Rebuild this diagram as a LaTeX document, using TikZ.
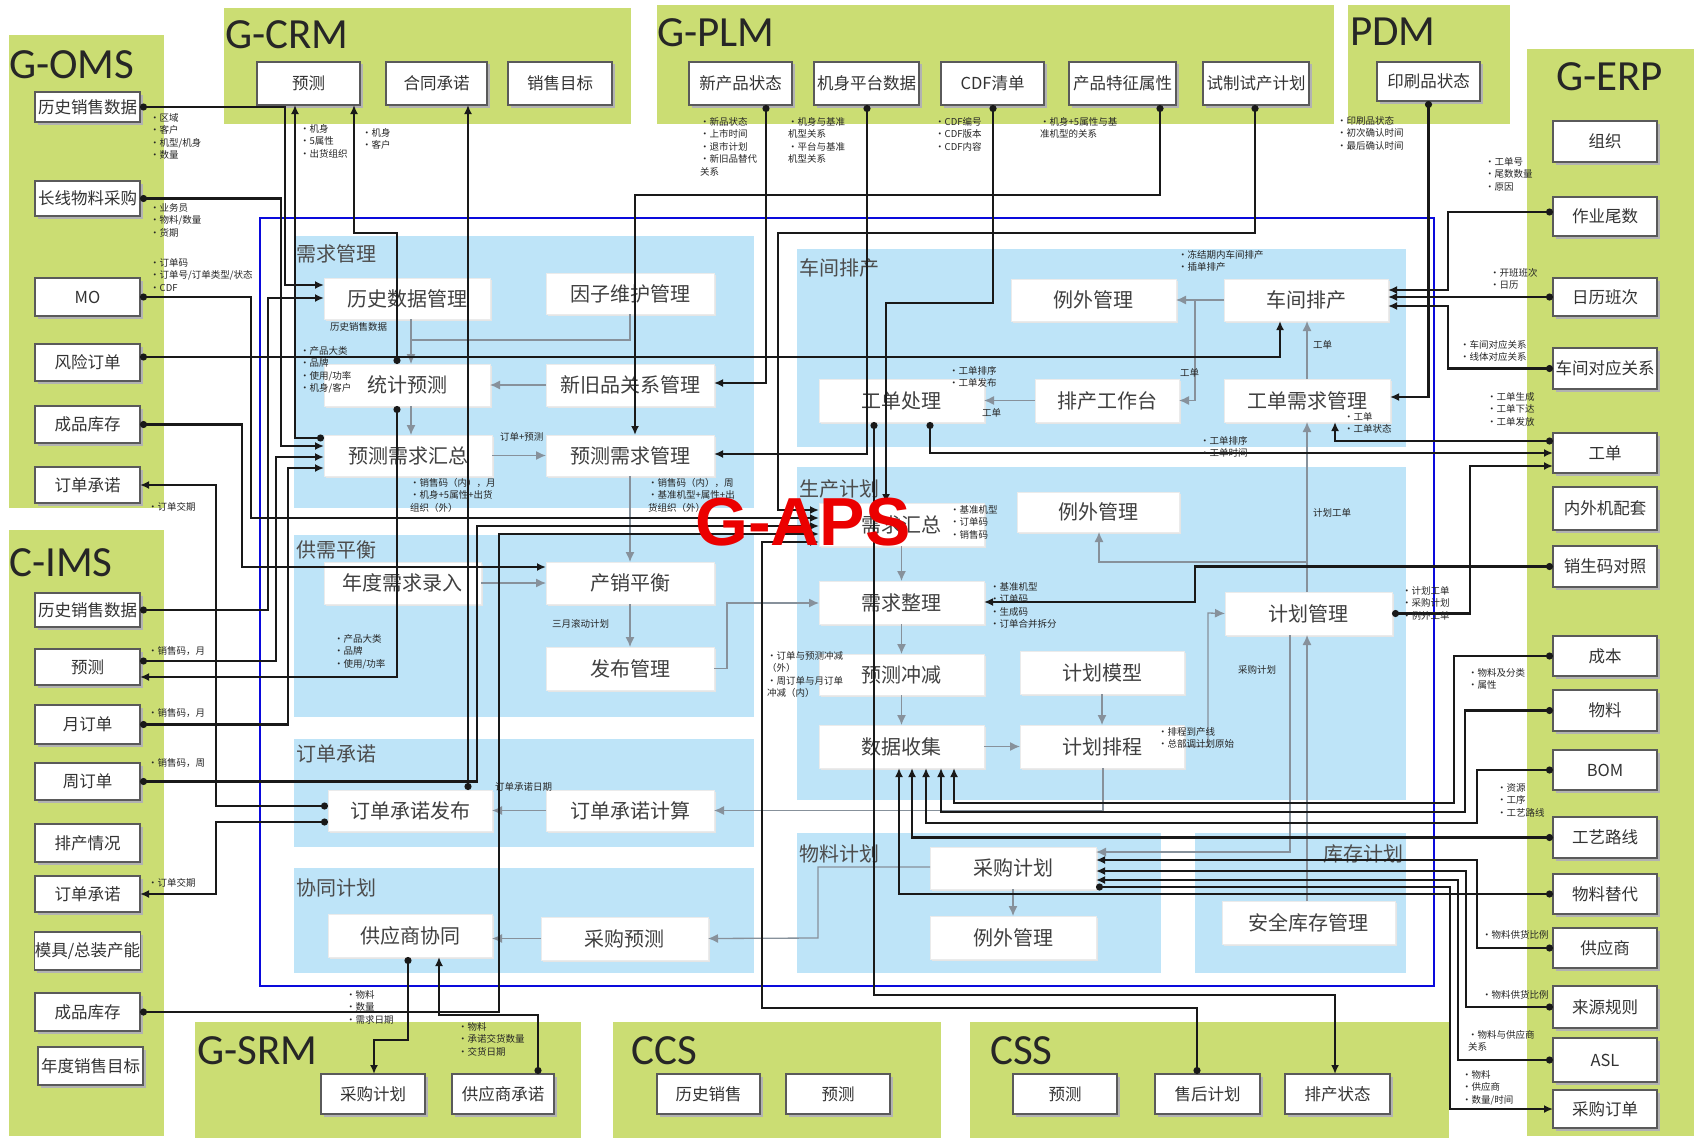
\documentclass[tikz,border=0pt]{standalone}
\usepackage{fontspec}
\setmainfont{Carlito}
\newfontfamily\cjk{Noto Sans CJK SC}
\newfontfamily\arialb{Liberation Sans}
\usetikzlibrary{arrows.meta}
\definecolor{lime}{RGB}{203,221,115}
\definecolor{pblue}{RGB}{190,228,248}
\definecolor{apsblue}{RGB}{10,10,220}
\definecolor{gline}{RGB}{135,145,155}
\definecolor{bline}{RGB}{25,25,25}
\definecolor{bxborder}{RGB}{90,90,90}
\definecolor{apsred}{RGB}{235,0,0}
\newcommand\mybox[7]{%
 \pgfmathsetmacro\mbcx{(#3+#5)/2}%
 \pgfmathsetmacro\mbcy{(#4+#6)/2}%
 \pgfmathsetmacro\mbw{#5-#3}%
 \pgfmathsetmacro\mbh{#6-#4}%
 \node[#1,minimum width=\mbw pt,minimum height=\mbh pt] (#2) at (\mbcx,\mbcy) {#7};}
\tikzset{
 gbox/.style={draw=bxborder,line width=1.2pt,fill=white,inner sep=0pt,outer sep=0pt,font=\cjk\fontsize{16.5}{18}\selectfont,text=black!80,
   preaction={fill=black!30,transform canvas={shift={(2.5pt,-2.5pt)}}}},
 ibox/.style={draw=white!92!black,line width=0.6pt,fill=white,inner sep=0pt,outer sep=0pt,font=\cjk\fontsize{20}{22}\selectfont,text=black!75,
   preaction={fill=black!10,transform canvas={shift={(2pt,-2pt)}}}},
 bl/.style={draw=bline,line width=2.2pt,{Circle[length=7pt]}-{Latex[length=9pt,width=8pt]}},
 gl/.style={draw=gline,line width=1.3pt,-{Latex[length=10pt,width=9pt]}},
 gln/.style={draw=gline,line width=1.3pt},
 lab/.style={font=\cjk\fontsize{9.5}{12.5}\selectfont,align=left,anchor=north west,inner sep=0pt,text=black!85},
 ttl/.style={font=\fontsize{43}{45}\selectfont,anchor=north west,inner sep=0pt,text=black!85},
 ptl/.style={font=\cjk\fontsize{20}{22}\selectfont,anchor=north west,inner sep=0pt,text=black!70},
}
\begin{document}
\begin{tikzpicture}[x=1pt,y=-1pt]
\useasboundingbox (0,0) rectangle (1696,1140);
\fill[white] (0,0) rectangle (1696,1140);
% green panels
\fill[lime] (9,35) rectangle (164,508);
\fill[lime] (9,530) rectangle (164,1136);
\fill[lime] (224,8) rectangle (631,124);
\fill[lime] (657,5) rectangle (1334,124);
\fill[lime] (1348,5) rectangle (1510,124);
\fill[lime] (1527,49) rectangle (1694,1136);
\fill[lime] (195,1022) rectangle (581,1138);
\fill[lime] (613,1022) rectangle (941,1138);
\fill[lime] (970,1022) rectangle (1449,1138);
\node[ttl] (tOMS) at (9,50) {G-OMS};
\node[ttl] (tIMS) at (9,548) {C-IMS};
\node[ttl] (tCRM) at (225,20) {G-CRM};
\node[ttl] (tPLM) at (657,18) {G-PLM};
\node[ttl] (tPDM) at (1350,18) {PDM};
\node[ttl] (tERP) at (1556,62) {G-ERP};
\node[ttl] (tSRM) at (197,1036) {G-SRM};
\node[ttl] (tCCS) at (631,1036) {CCS};
\node[ttl] (tCSS) at (990,1036) {CSS};
% APS frame and sub panels
\draw[apsblue,line width=2.5pt] (260,218) rectangle (1434,986);
\fill[pblue] (294,236) rectangle (754,508);
\fill[pblue] (294,535) rectangle (754,717);
\fill[pblue] (294,739) rectangle (754,847);
\fill[pblue] (294,868) rectangle (754,973);
\fill[pblue] (797,249) rectangle (1406,447);
\fill[pblue] (797,467) rectangle (1406,800);
\fill[pblue] (797,833) rectangle (1161,973);
\fill[pblue] (1195,833) rectangle (1406,973);
\node[ptl] (s1) at (296,244) {需求管理};
\node[ptl] (s2) at (296,540) {供需平衡};
\node[ptl] (s3) at (296,744) {订单承诺};
\node[ptl] (s4) at (296,878) {协同计划};
\node[ptl] (s5) at (799,258) {车间排产};
\node[ptl] (s6) at (799,479) {生产计划};
\node[ptl] (s7) at (799,844) {物料计划};
\node[ptl,anchor=north east] (s8) at (1404,844) {库存计划};
% G-OMS boxes
\mybox{gbox}{oms1}{35}{92}{140}{122}{历史销售数据}
\mybox{gbox}{oms2}{35}{181}{140}{216}{长线物料采购}
\mybox{gbox}{oms3}{35}{278}{140}{316}{MO}
\mybox{gbox}{oms4}{35}{344}{140}{381}{风险订单}
\mybox{gbox}{oms5}{35}{406}{140}{443}{成品库存}
\mybox{gbox}{oms6}{35}{467}{140}{503}{订单承诺}
% C-IMS boxes
\mybox{gbox}{ims1}{35}{593}{140}{627}{历史销售数据}
\mybox{gbox}{ims2}{35}{649}{140}{685}{预测}
\mybox{gbox}{ims3}{35}{705}{140}{744}{月订单}
\mybox{gbox}{ims4}{35}{763}{140}{800}{周订单}
\mybox{gbox}{ims5}{35}{824}{140}{862}{排产情况}
\mybox{gbox}{ims6}{35}{876}{140}{912}{订单承诺}
\mybox{gbox}{ims7}{35}{932}{140}{970}{模具/总装产能}
\mybox{gbox}{ims8}{35}{993}{140}{1031}{成品库存}
\mybox{gbox}{ims9}{38}{1047}{143}{1085}{年度销售目标}
% G-CRM
\mybox{gbox}{crm1}{257}{62}{360}{105}{预测}
\mybox{gbox}{crm2}{386}{62}{487}{105}{合同承诺}
\mybox{gbox}{crm3}{508}{62}{612}{105}{销售目标}
% G-PLM
\mybox{gbox}{plm1}{689}{62}{792}{105}{新产品状态}
\mybox{gbox}{plm2}{814}{62}{919}{105}{机身平台数据}
\mybox{gbox}{plm3}{941}{62}{1044}{105}{CDF清单}
\mybox{gbox}{plm4}{1069}{62}{1176}{105}{产品特征属性}
\mybox{gbox}{plm5}{1203}{62}{1309}{105}{试制试产计划}
% PDM
\mybox{gbox}{pdm1}{1377}{62}{1480}{101}{印刷品状态}
% G-ERP
\mybox{gbox}{erp1}{1553}{121}{1657}{162}{组织}
\mybox{gbox}{erp2}{1553}{197}{1657}{236}{作业尾数}
\mybox{gbox}{erp3}{1553}{278}{1657}{316}{日历班次}
\mybox{gbox}{erp4}{1553}{348}{1657}{389}{车间对应关系}
\mybox{gbox}{erp5}{1553}{433}{1657}{473}{工单}
\mybox{gbox}{erp6}{1553}{487}{1657}{530}{内外机配套}
\mybox{gbox}{erp7}{1553}{546}{1657}{587}{销生码对照}
\mybox{gbox}{erp8}{1553}{636}{1657}{676}{成本}
\mybox{gbox}{erp9}{1553}{690}{1657}{731}{物料}
\mybox{gbox}{erp10}{1553}{750}{1657}{790}{BOM}
\mybox{gbox}{erp11}{1553}{817}{1657}{858}{工艺路线}
\mybox{gbox}{erp12}{1553}{874}{1657}{914}{物料替代}
\mybox{gbox}{erp13}{1553}{928}{1657}{968}{供应商}
\mybox{gbox}{erp14}{1553}{986}{1657}{1028}{来源规则}
\mybox{gbox}{erp15}{1553}{1038}{1657}{1082}{ASL}
\mybox{gbox}{erp16}{1553}{1090}{1657}{1128}{采购订单}
% bottom systems
\mybox{gbox}{srm1}{321}{1074}{425}{1114}{采购计划}
\mybox{gbox}{srm2}{452}{1074}{554}{1114}{供应商承诺}
\mybox{gbox}{ccs1}{657}{1074}{760}{1114}{历史销售}
\mybox{gbox}{ccs2}{786}{1074}{890}{1114}{预测}
\mybox{gbox}{css1}{1013}{1074}{1117}{1114}{预测}
\mybox{gbox}{css2}{1155}{1074}{1260}{1114}{售后计划}
\mybox{gbox}{css3}{1285}{1074}{1390}{1114}{排产状态}
% inner boxes
\mybox{ibox}{hdm}{324}{278}{490}{319}{历史数据管理}
\mybox{ibox}{yzw}{546}{273}{714}{314}{因子维护管理}
\mybox{ibox}{tjy}{324}{364}{490}{406}{统计预测}
\mybox{ibox}{xjp}{546}{364}{714}{406}{新旧品关系管理}
\mybox{ibox}{ycz}{324}{435}{492}{476}{预测需求汇总}
\mybox{ibox}{ycg}{546}{435}{714}{476}{预测需求管理}
\mybox{ibox}{ndx}{324}{562}{481}{604}{年度需求录入}
\mybox{ibox}{cxp}{546}{562}{714}{604}{产销平衡}
\mybox{ibox}{fbg}{546}{647}{714}{690}{发布管理}
\mybox{ibox}{ddf}{328}{790}{492}{831}{订单承诺发布}
\mybox{ibox}{ddj}{546}{790}{714}{831}{订单承诺计算}
\mybox{ibox}{gyx}{328}{914}{492}{957}{供应商协同}
\mybox{ibox}{cgy}{541}{917}{708}{960}{采购预测}
\mybox{ibox}{lw1}{1011}{279}{1176}{321}{例外管理}
\mybox{ibox}{cjp}{1224}{279}{1388}{321}{车间排产}
\mybox{ibox}{gdc}{819}{379}{984}{422}{工单处理}
\mybox{ibox}{pcg}{1035}{379}{1179}{422}{排产工作台}
\mybox{ibox}{gdx}{1224}{379}{1390}{422}{工单需求管理}
\mybox{ibox}{xqh}{819}{503}{984}{546}{需求汇总}
\mybox{ibox}{lw2}{1017}{492}{1179}{532}{例外管理}
\mybox{ibox}{xqz}{819}{581}{984}{624}{需求整理}
\mybox{ibox}{jhg}{1225}{592}{1392}{635}{计划管理}
\mybox{ibox}{ycj}{819}{654}{984}{695}{预测冲减}
\mybox{ibox}{jhm}{1020}{651}{1184}{694}{计划模型}
\mybox{ibox}{sjs}{819}{725}{984}{768}{数据收集}
\mybox{ibox}{jhp}{1020}{725}{1184}{768}{计划排程}
\mybox{ibox}{cgj}{930}{847}{1096}{889}{采购计划}
\mybox{ibox}{lw3}{930}{916}{1096}{959}{例外管理}
\mybox{ibox}{aqk}{1222}{901}{1395}{944}{安全库存管理}
% gray internal flows
\coordinate (jn1) at (1195,300);
\coordinate (jn2) at (1307,562);
\draw[gl] (xjp.west) -- (tjy.east);
\draw[gl] (hdm.south -| 411,0) -- (tjy.north -| 411,0);
\draw[gln] (yzw.south -| 630,0) |- (411,340);
\draw[gl] (tjy.south -| 411,0) -- (ycz.north -| 411,0);
\draw[gl] (ycz.east) -- (ycg.west);
\draw[gl] (ycg.south -| 630,0) -- (cxp.north -| 630,0);
\draw[gl] (ndx.east) -- (cxp.west);
\draw[gl] (cxp.south) -- (fbg.north);
\draw[gl] (fbg.east) -| (727,603) -- (xqz.west |- 0,603);
\draw[gl] (ddj.west) -- (ddf.east);
\draw[gl] (jhp.south -| 1103,0) |- (ddj.east);
\draw[gl] (cgj.west |- 0,867) -| (818,938) -- (cgy.east);
\draw[gl] (cgy.west) -- (gyx.east |- cgy.west);
\draw[gl] (cjp.west) -- (lw1.east);
\draw[gl] (jn1) |- (pcg.east);
\draw[gl] (pcg.west) -- (gdc.east);
\draw[gl] (gdx.north -| 1307,0) -- (cjp.south -| 1307,0);
\draw[gl] (jhg.north -| 1307,0) -- (gdx.south -| 1307,0);
\draw[gl] (jn2) -| (lw2.south -| 1099,0);
\draw[gl] (xqh.south) -- (xqz.north);
\draw[gl] (xqz.south) -- (ycj.north);
\draw[gl] (ycj.south) -- (sjs.north);
\draw[gl] (sjs.east) -- (jhp.west);
\draw[gl] (jhm.south) -- (jhp.north);
\draw[gl] (jhp.east) -| (1208,613) -- (jhg.west);
\draw[gl] (aqk.north -| 1307,0) -- (jhg.south -| 1307,0);
\draw[gl] (jhg.south -| 1290,0) |- (cgj.east |- 0,852);
\draw[gl] (cgj.south) -- (lw3.north);
% black connectors
\draw[bl] (oms1.east) -| (285,285) -- (hdm.west |- 0,285);
\draw[bl] (oms2.east) -| (281,446) -- (ycz.west |- 0,446);
\draw[bl] (oms3.east) -| (251,518) -- (xqh.west |- 0,518);
\draw[bl] (oms4.east |- 0,357) -| (cjp.south -| 1280,0);
\draw[bl] (oms5.east) -| (242,567) -- (cxp.west |- 0,567);
\draw[bl] (ddf.west |- 0,806) -| (216,485) -- (oms6.east);
\draw[bl] (ddf.west |- 0,822) -| (216,894) -- (ims6.east);
\draw[bl] (ims1.east) -| (268,298) -- (hdm.west |- 0,298);
\draw[bl] (ims2.east |- 0,661) -| (276,457) -- (ycz.west |- 0,457);
\draw[bl] (tjy.south -| 397,0) |- (ims2.east |- 0,677);
\draw[bl] (ims3.east) -| (288,468) -- (ycz.west |- 0,468);
\draw[bl] (ims4.east) -| (477,526) -- (xqh.west |- 0,526);
\draw[bl] (ddf.north -| 468,0) -- (crm2.south -| 468,0);
\draw[bl] (ims8.east) -| (499,534) -- (xqh.west |- 0,534);
\draw[bl] (srm2.north -| 538,0) |- (439,1015) -- (gyx.south -| 439,0);
\draw[bl] (gyx.south -| 408,0) |- (374,1040) -- (srm1.north -| 374,0);
\draw[bl] (ycz.west |- 0,438) -| (crm1.south -| 295,0);
\draw[bl] (tjy.north -| 397,0) |- (354,233) -- (crm1.south -| 354,0);
\draw[bl] (plm1.south -| 766,0) |- (xjp.east |- 0,383);
\draw[bl] (plm2.south -| 867,0) |- (ycg.east |- 0,454);
\draw[bl] (plm3.south -| 993,0) |- (886,303) -- (xqh.north -| 886,0);
\draw[bl] (plm4.south -| 1160,0) |- (635,195) -- (ycg.north -| 635,0);
\draw[bl] (plm5.south -| 1255,0) |- (778,233) |- (xqh.west |- 0,510);
\draw[bl] (pdm1.south) |- (gdx.east |- 0,397);
\draw[bl] (erp2.west |- 0,212) -| (1448,290) -- (cjp.east |- 0,290);
\draw[bl] (erp3.west) -- (cjp.east |- 0,297);
\draw[bl] (erp4.west) -| (1448,306) -- (cjp.east |- 0,306);
\draw[bl] (erp5.west |- 0,441) -| (gdx.south -| 1335,0);
\draw[bl] (gdc.south -| 930,0) |- (erp5.west |- 0,453);
\draw[bl] (jhg.east) -| (1470,466) -- (erp5.west |- 0,466);
\draw[bl] (erp7.west) -| (1195,602) -- (xqz.east |- 0,602);
\draw[bl] (erp8.west) -| (1454,803) -| (sjs.south -| 954,0);
\draw[bl] (erp9.west) -| (1465,812) -| (sjs.south -| 941,0);
\draw[bl] (erp10.west) -| (1477,823) -| (sjs.south -| 926,0);
\draw[bl] (erp11.west) -| (sjs.south -| 912,0);
\draw[bl] (erp12.west) -| (sjs.south -| 899,0);
\draw[bl] (erp13.west) -| (1477,860) -- (cgj.east |- 0,860);
\draw[bl] (erp14.west) -| (1466,871) -- (cgj.east |- 0,871);
\draw[bl] (erp15.west) -| (1458,880) -- (cgj.east |- 0,880);
\draw[bl] (cgj.east |- 0,887) -| (1450,1109) -- (erp16.west);
\draw[bl] (gdc.south -| 874,0) |- (1335,995) -- (css3.north -| 1335,0);
\draw[bl] (css2.north -| 1197,0) |- (762,1008) |- (xqh.west |- 0,542);
% labels
\node[lab] (l1) at (150,113) {•区域\\•客户\\•机型/机身\\•数量};
\node[lab] (l2) at (150,203) {•业务员\\•物料/数量\\•货期};
\node[lab] (l3) at (150,258) {•订单码\\•订单号/订单类型/状态\\•CDF};
\node[lab] (l4) at (300,124) {•机身\\•5属性\\•出货组织};
\node[lab] (l5) at (362,128) {•机身\\•客户};
\node[lab] (l6) at (148,502) {•订单交期};
\node[lab] (l7) at (148,878) {•订单交期};
\node[lab] (l8) at (148,646) {•销售码，月};
\node[lab] (l9) at (148,708) {•销售码，月};
\node[lab] (l10) at (148,758) {•销售码，周};
\node[lab] (l11) at (334,634) {•产品大类\\•品牌\\•使用/功率};
\node[lab] (l12) at (346,990) {•物料\\•数量\\•需求日期};
\node[lab] (l13) at (458,1022) {•物料\\•承诺交货数量\\•交货日期};
\node[lab] (l14) at (330,322) {历史销售数据};
\node[lab] (l15) at (300,346) {•产品大类\\•品牌\\•使用/功率\\•机身/客户};
\node[lab] (l16) at (500,432) {订单+预测};
\node[lab] (l17) at (410,478) {•销售码（内），月\\•机身+5属性+出货\\组织（外）};
\node[lab] (l18) at (648,478) {•销售码（内），周\\•基准机型+属性+出\\货组织（外）};
\node[lab] (l19) at (552,619) {三月滚动计划};
\node[lab] (l20) at (495,782) {订单承诺日期};
\node[lab] (l21) at (700,117) {•新品状态\\•上市时间\\•退市计划\\•新旧品替代\\关系};
\node[lab] (l22) at (788,117) {•机身与基准\\机型关系\\•平台与基准\\机型关系};
\node[lab] (l23) at (935,117) {•CDF编号\\•CDF版本\\•CDF内容};
\node[lab] (l24) at (1040,117) {•机身+5属性与基\\准机型的关系};
\node[lab] (l25) at (1337,116) {•印刷品状态\\•初次确认时间\\•最后确认时间};
\node[lab] (l26) at (1485,157) {•工单号\\•尾数数量\\•原因};
\node[lab] (l27) at (1490,268) {•开班班次\\•日历};
\node[lab] (l28) at (1460,340) {•车间对应关系\\•线体对应关系};
\node[lab] (l29) at (1487,392) {•工单生成\\•工单下达\\•工单发放};
\node[lab] (l30) at (1344,412) {•工单\\•工单状态};
\node[lab] (l31) at (1200,436) {•工单排序\\•工单时间};
\node[lab] (l32) at (1178,250) {•冻结期内车间排产\\•插单排产};
\node[lab] (l33) at (1180,368) {工单};
\node[lab] (l34) at (949,366) {•工单排序\\•工单发布};
\node[lab] (l35) at (982,408) {工单};
\node[lab] (l36) at (1313,340) {工单};
\node[lab] (l37) at (950,505) {•基准机型\\•订单码\\•销售码};
\node[lab] (l38) at (1313,508) {计划工单};
\node[lab] (l39) at (990,582) {•基准机型\\•订单码\\•生成码\\•订单合并拆分};
\node[lab] (l40) at (1402,586) {•计划工单\\•采购计划\\•例外工单};
\node[lab] (l41) at (767,651) {•订单与预测冲减\\（外）\\•周订单与月订单\\冲减（内）};
\node[lab] (l42) at (1238,665) {采购计划};
\node[lab] (l43) at (1158,727) {•排程到产线\\•总部调计划原始};
\node[lab] (l44) at (1468,668) {•物料及分类\\•属性};
\node[lab] (l45) at (1497,783) {•资源\\•工序\\•工艺路线};
\node[lab] (l46) at (1482,930) {•物料供货比例};
\node[lab] (l47) at (1482,990) {•物料供货比例};
\node[lab] (l48) at (1468,1030) {•物料与供应商\\关系};
\node[lab] (l49) at (1462,1070) {•物料\\•供应商\\•数量/时间};
% big title
\node[font=\arialb\bfseries\fontsize{68}{72}\selectfont,text=apsred,inner sep=0pt] (aps) at (803,522) {G-APS};
\end{tikzpicture}
\end{document}
